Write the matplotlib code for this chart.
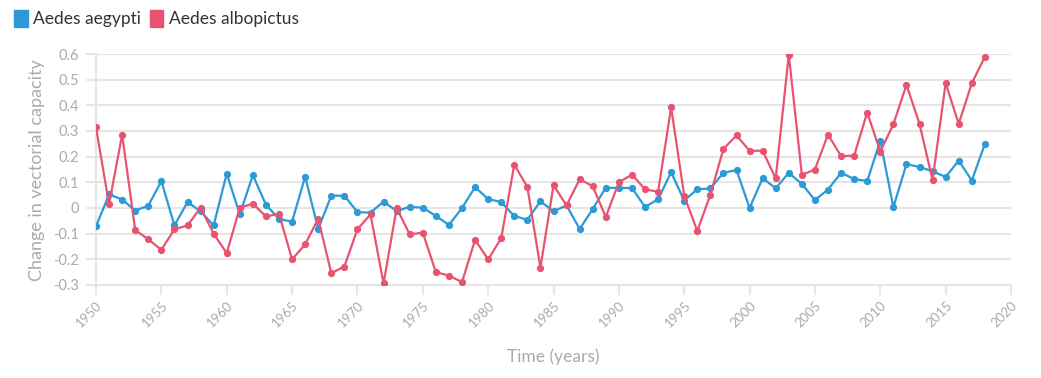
import matplotlib.pyplot as plt
from matplotlib.patches import Patch
import numpy as np

plt.rcParams["font.family"] = ["Lato", "DejaVu Sans"]

years = list(range(1950, 2019))

aegypti = [-0.072, 0.053, 0.033, -0.010, 0.009, 0.105, -0.068, 0.023, -0.013, -0.068,
           0.134, -0.025, 0.128, 0.013, -0.043, -0.053, 0.122, -0.082, 0.048, 0.048,
           -0.016, -0.018, 0.025, -0.012, 0.005, 0.001, -0.031, -0.066, 0.0, 0.081,
           0.035, 0.023, -0.031, -0.046, 0.026, -0.013, 0.010, -0.082, -0.004, 0.079,
           0.078, 0.078, 0.004, 0.034, 0.139, 0.029, 0.073, 0.076, 0.137, 0.148,
           0.0, 0.116, 0.077, 0.137, 0.094, 0.031, 0.072, 0.137, 0.113, 0.105,
           0.262, 0.003, 0.171, 0.160, 0.143, 0.121, 0.185, 0.107, 0.249]

albopictus = [0.314, 0.014, 0.286, -0.086, -0.122, -0.163, -0.083, -0.068, 0.001, -0.100,
              -0.176, 0.001, 0.017, -0.033, -0.023, -0.200, -0.142, -0.042, -0.254, -0.228,
              -0.083, -0.025, -0.294, 0.0, -0.103, -0.096, -0.250, -0.263, -0.289, -0.124,
              -0.200, -0.118, 0.169, 0.082, -0.233, 0.089, 0.010, 0.112, 0.085, -0.035,
              0.100, 0.130, 0.073, 0.063, 0.392, 0.048, -0.090, 0.052, 0.230, 0.283,
              0.223, 0.223, 0.115, 0.598, 0.129, 0.150, 0.286, 0.202, 0.204, 0.372,
              0.220, 0.326, 0.480, 0.328, 0.108, 0.487, 0.328, 0.486, 0.589]

blue = "#2b9ad6"
red = "#e8546f"
grey = "#b0a9a3"

fig = plt.figure(figsize=(10.41, 3.78), dpi=100)
ax = fig.add_axes([96 / 1041, 1 - 285 / 378, (1011 - 96) / 1041, (285 - 54) / 378])

ax.plot(years, aegypti, color=blue, lw=1.6, marker="o", ms=4.2, zorder=3)
ax.plot(years, albopictus, color=red, lw=1.6, marker="o", ms=4.2, zorder=3)

ax.set_xlim(1950, 2020)
ax.set_ylim(-0.3, 0.6)
ax.set_xticks(np.arange(1950, 2021, 5))
ax.set_yticks(np.arange(-0.3, 0.61, 0.1))
ax.set_yticklabels(["-0.3", "-0.2", "-0.1", "0", "0.1", "0.2", "0.3", "0.4", "0.5", "0.6"])
ax.grid(axis="y", color="#e6e6e6", lw=1.5)
ax.set_axisbelow(True)

for s in ["top", "right"]:
    ax.spines[s].set_visible(False)
for s in ["left", "bottom"]:
    ax.spines[s].set_color("#e6e6e6")
    ax.spines[s].set_linewidth(1.5)

ax.tick_params(axis="both", colors="#e6e6e6", labelcolor=grey, labelsize=10.5, length=7, width=1.5)
ax.tick_params(axis="y", pad=5)
ax.tick_params(axis="x", labelsize=9.5, pad=3)
for lbl in ax.get_xticklabels():
    lbl.set_rotation(45)
    lbl.set_ha("right")
    lbl.set_rotation_mode("anchor")

fig.text(37 / 1041, 1 - 170 / 378, "Change in vectorial capacity", color=grey, fontsize=13,
         rotation=90, ha="center", va="center")
fig.text(553 / 1041, 1 - 357 / 378, "Time (years)", color=grey, fontsize=12.5,
         ha="center", va="center")

handles = [Patch(facecolor=blue, edgecolor=blue), Patch(facecolor=red, edgecolor=red)]
fig.legend(handles, ["Aedes aegypti", "Aedes albopictus"], loc="upper left",
           bbox_to_anchor=(0.0, 1.01), ncol=2, frameon=False, fontsize=12.5,
           handlelength=0.8, handleheight=1.1, handletextpad=0.3, columnspacing=0.5,
           labelcolor="#333333", borderaxespad=0.4)

fig.savefig("out.png", dpi=100)
